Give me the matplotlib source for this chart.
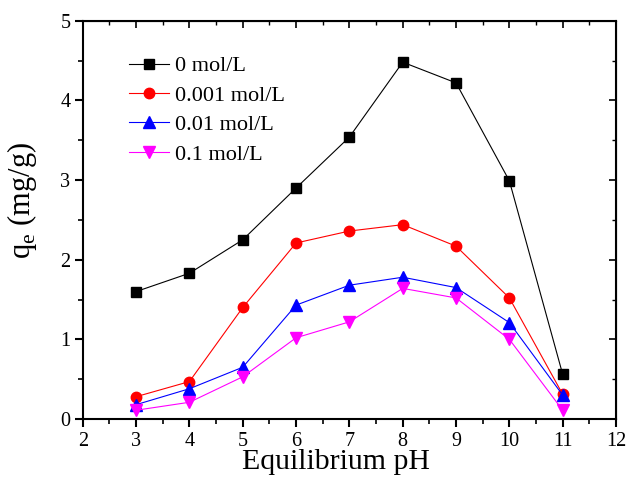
import matplotlib
matplotlib.use("Agg")
import matplotlib.pyplot as plt
from matplotlib.ticker import MultipleLocator

plt.rcParams['font.family'] = ['Liberation Serif', 'DejaVu Serif']
plt.rcParams['mathtext.fontset'] = 'custom'
plt.rcParams['mathtext.rm'] = 'Liberation Serif'

# pH values and adsorption capacity for each ionic strength
ph = [3, 4, 5, 6, 7, 8, 9, 10, 11]
qe_0 = [1.60, 1.83, 2.25, 2.90, 3.54, 4.48, 4.22, 2.99, 0.56]
qe_0001 = [0.28, 0.47, 1.40, 2.21, 2.36, 2.44, 2.17, 1.52, 0.31]
qe_001 = [0.18, 0.38, 0.65, 1.43, 1.68, 1.78, 1.65, 1.21, 0.30]
qe_01 = [0.11, 0.21, 0.53, 1.02, 1.22, 1.64, 1.52, 1.00, 0.11]
labels = ["0 mol/L", "0.001 mol/L", "0.01 mol/L", "0.1 mol/L"]


def main():
    fig = plt.figure(figsize=(6.27, 4.83), dpi=100)
    ax = fig.add_axes([0.132, 0.1325, 0.8505, 0.8245])

    ax.plot(ph, qe_0, color='black', marker='s', ms=7, lw=0.8, label=labels[0])
    ax.plot(ph, qe_0001, color='red', marker='o', ms=7.5, lw=0.8, label=labels[1])
    ax.plot(ph, qe_001, color='blue', marker='^', ms=8.5, lw=0.8, label=labels[2])
    ax.plot(ph, qe_01, color='magenta', marker='v', ms=8.5, lw=0.8, label=labels[3])

    ax.set_xlim(2, 12)
    ax.set_ylim(0, 5)
    ax.xaxis.set_major_locator(MultipleLocator(1))
    ax.xaxis.set_minor_locator(MultipleLocator(0.5))
    ax.yaxis.set_major_locator(MultipleLocator(1))
    ax.yaxis.set_minor_locator(MultipleLocator(0.5))

    for sp in ax.spines.values():
        sp.set_linewidth(1.5)

    ax.tick_params(which='major', direction='out', length=6, width=1.5, labelsize=14.5, pad=3)
    ax.tick_params(which='minor', direction='out', length=3.5, width=1.2)

    # mirrored ticks pointing inwards on top and right
    top = ax.secondary_xaxis('top')
    top.xaxis.set_major_locator(MultipleLocator(1))
    top.xaxis.set_minor_locator(MultipleLocator(0.5))
    top.tick_params(which='major', direction='in', length=5, width=1.2, labeltop=False)
    top.tick_params(which='minor', direction='in', length=3, width=1.0)
    right = ax.secondary_yaxis('right')
    right.yaxis.set_major_locator(MultipleLocator(1))
    right.yaxis.set_minor_locator(MultipleLocator(0.5))
    right.tick_params(which='major', direction='in', length=5, width=1.2, labelright=False)
    right.tick_params(which='minor', direction='in', length=3, width=1.0)

    ax.set_xlabel("Equilibrium pH", fontsize=21.5, labelpad=1)
    ax.xaxis.set_label_coords(0.475, -0.075)
    ax.set_ylabel(r"q$_\mathrm{e}$ (mg/g)", fontsize=22)
    ax.yaxis.set_label_coords(-0.082, 0.55)

    ax.legend(loc='upper left', bbox_to_anchor=(0.086, 0.912), frameon=False,
              fontsize=16, numpoints=1, handlelength=1.8, handletextpad=0.3,
              labelspacing=0.4, borderpad=0, borderaxespad=0)

    fig.savefig("out.png", dpi=100)


if __name__ == "__main__":
    main()
